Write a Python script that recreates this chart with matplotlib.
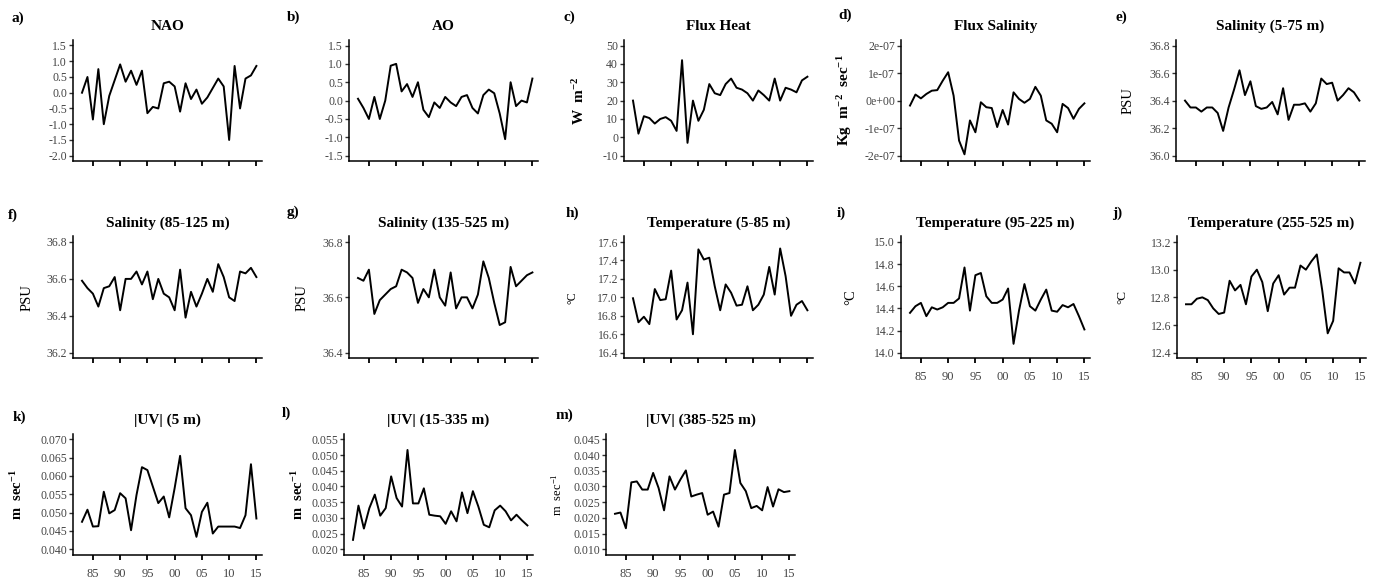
import matplotlib
matplotlib.use('Agg')
import matplotlib.pyplot as plt
import numpy as np

plt.rcParams['font.family'] = ['Liberation Serif', 'DejaVu Serif']
plt.rcParams['mathtext.fontset'] = 'custom'
plt.rcParams['mathtext.rm'] = 'Liberation Serif'
plt.rcParams['mathtext.bf'] = 'Liberation Serif:bold'
plt.rcParams['mathtext.default'] = 'regular'

years = np.arange(1983, 2016)
xticks = [1985, 1990, 1995, 2000, 2005, 2010, 2015]
xticklabels = ['85', '90', '95', '00', '05', '10', '15']

# series, 1983-2015
nao = [0.0, 0.5, -0.85, 0.75, -1.0, -0.1, 0.4, 0.9, 0.35, 0.7, 0.25, 0.7, -0.65,
       -0.45, -0.5, 0.3, 0.35, 0.2, -0.6, 0.3, -0.2, 0.1, -0.35, -0.15, 0.15, 0.45,
       0.2, -1.5, 0.85, -0.5, 0.45, 0.55, 0.85]
ao = [0.05, -0.2, -0.5, 0.1, -0.5, 0.0, 0.95, 1.0, 0.25, 0.45, 0.1, 0.5, -0.25,
      -0.45, -0.05, -0.2, 0.1, -0.05, -0.15, 0.1, 0.15, -0.2, -0.35, 0.15, 0.3,
      0.2, -0.35, -1.05, 0.5, -0.15, 0.0, -0.05, 0.6]
flux_heat = [20, 2, 11.5, 10.5, 7.5, 10, 11, 9, 3.5, 42, -3, 20, 9, 15, 29, 24, 23,
             29, 32, 27, 26, 24, 20, 25.5, 23, 20, 32, 20, 27, 26, 24.5, 31, 33]
flux_sal = [-0.18, 0.22, 0.08, 0.24, 0.36, 0.38, 0.72, 1.03, 0.18, -1.45, -1.95,
            -0.72, -1.15, -0.06, -0.24, -0.27, -0.96, -0.34, -0.87, 0.3, 0.06,
            -0.08, 0.06, 0.5, 0.18, -0.72, -0.84, -1.15, -0.12, -0.27, -0.66,
            -0.3, -0.1]  # x 1e-07
sal_5_75 = [36.40, 36.35, 36.35, 36.32, 36.35, 36.35, 36.31, 36.18, 36.35, 36.48,
            36.62, 36.44, 36.54, 36.36, 36.34, 36.35, 36.39, 36.30, 36.49, 36.26,
            36.37, 36.37, 36.38, 36.32, 36.38, 36.56, 36.52, 36.53, 36.40, 36.44,
            36.49, 36.46, 36.40]
sal_85_125 = [36.59, 36.55, 36.52, 36.45, 36.55, 36.56, 36.61, 36.43, 36.60, 36.60,
              36.64, 36.57, 36.64, 36.49, 36.60, 36.52, 36.50, 36.43, 36.65, 36.39,
              36.53, 36.45, 36.52, 36.60, 36.53, 36.68, 36.61, 36.50, 36.48, 36.64,
              36.63, 36.66, 36.61]
sal_135_525 = [36.67, 36.66, 36.70, 36.54, 36.59, 36.61, 36.63, 36.64, 36.70, 36.69,
               36.67, 36.58, 36.63, 36.60, 36.70, 36.60, 36.57, 36.69, 36.56, 36.60,
               36.60, 36.56, 36.61, 36.73, 36.67, 36.58, 36.50, 36.51, 36.71, 36.64,
               36.66, 36.68, 36.69]
temp_5_85 = [16.99, 16.73, 16.79, 16.71, 17.09, 16.97, 16.98, 17.29, 16.76, 16.86,
             17.16, 16.60, 17.52, 17.41, 17.43, 17.12, 16.86, 17.14, 17.05, 16.91,
             16.92, 17.12, 16.86, 16.92, 17.03, 17.33, 17.03, 17.53, 17.23, 16.80,
             16.92, 16.96, 16.86]
temp_95_225 = [14.36, 14.42, 14.45, 14.33, 14.41, 14.39, 14.41, 14.45, 14.45, 14.49,
               14.77, 14.38, 14.70, 14.72, 14.51, 14.45, 14.45, 14.48, 14.58, 14.08,
               14.38, 14.62, 14.42, 14.38, 14.48, 14.57, 14.38, 14.37, 14.43, 14.41,
               14.44, 14.33, 14.21]
temp_255_525 = [12.75, 12.75, 12.79, 12.80, 12.78, 12.72, 12.68, 12.69, 12.92, 12.85,
                12.89, 12.75, 12.95, 13.00, 12.91, 12.70, 12.90, 12.96, 12.82, 12.87,
                12.87, 13.03, 13.00, 13.06, 13.11, 12.85, 12.54, 12.63, 13.01, 12.98,
                12.98, 12.90, 13.05]
uv_5 = [0.0475, 0.0508, 0.0462, 0.0463, 0.0557, 0.0498, 0.0507, 0.0553, 0.0539,
        0.0452, 0.0548, 0.0624, 0.0616, 0.0571, 0.0526, 0.0544, 0.0487, 0.0567,
        0.0655, 0.0512, 0.0493, 0.0434, 0.0502, 0.0527, 0.0443, 0.0462, 0.0462,
        0.0462, 0.0462, 0.0458, 0.0493, 0.0632, 0.0484]
uv_15_335 = [0.0230, 0.0339, 0.0266, 0.0331, 0.0374, 0.0307, 0.0331, 0.0432, 0.0363,
             0.0336, 0.0516, 0.0346, 0.0346, 0.0394, 0.0310, 0.0307, 0.0305, 0.0281,
             0.0321, 0.0289, 0.0381, 0.0315, 0.0385, 0.0336, 0.0278, 0.0270, 0.0324,
             0.0339, 0.0321, 0.0292, 0.0310, 0.0292, 0.0276]
uv_385_525 = [0.0213, 0.0217, 0.0167, 0.0313, 0.0316, 0.0290, 0.0290, 0.0343, 0.0295,
              0.0224, 0.0332, 0.0290, 0.0322, 0.0351, 0.0268, 0.0274, 0.0279, 0.0210,
              0.0220, 0.0172, 0.0274, 0.0279, 0.0416, 0.0311, 0.0285, 0.0231, 0.0238,
              0.0224, 0.0298, 0.0236, 0.0291, 0.0282, 0.0285]

W, H = 1378, 581
fig = plt.figure(figsize=(W / 100, H / 100), dpi=100)

PX_YR = 5.45
row_top = {1: 45.5, 2: 242.0, 3: 439.3}
row_bot = {1: 155.7, 2: 352.7, 3: 549.3}

# (letter, title, data, yticks, yticklabels, ylabel, ylabel style, x1983 px, row, label px, ylabel x px, show x labels)
panels = [
    ('a)', 'NAO', nao, np.arange(-2.0, 1.51, 0.5), None, None, None, 82, 1, (12, 18), None, False),
    ('b)', 'AO', ao, np.arange(-1.5, 1.51, 0.5), None, None, None, 358, 1, (287, 17), None, False),
    ('c)', 'Flux Heat', flux_heat, np.arange(-10, 51, 10),
     ['-10', '0', '10', '20', '30', '40', '50'], r'W  m$^{\mathbf{-2}}$', ('bold', 11), 633, 1, (563, 17), 579, False),
    ('d)', 'Flux Salinity', [v * 1e-7 for v in flux_sal], np.array([-2e-7, -1e-7, 0, 1e-7, 2e-7]),
     ['-2e-07', '-1e-07', '0e+00', '1e-07', '2e-07'], r'Kg  m$^{\mathbf{-2}}$  sec$^{\mathbf{-1}}$', ('bold', 11), 910, 1, (838, 15), 845, False),
    ('e)', 'Salinity (5-75 m)', sal_5_75, np.arange(36.0, 36.81, 0.2), None, 'PSU', ('normal', 10.5), 1185, 1, (1116, 17), 1128, False),
    ('f)', 'Salinity (85-125 m)', sal_85_125, np.arange(36.2, 36.81, 0.2), None, 'PSU', ('normal', 10.5), 82, 2, (8, 215), 27, False),
    ('g)', 'Salinity (135-525 m)', sal_135_525, np.arange(36.4, 36.81, 0.2), None, 'PSU', ('normal', 10.5), 358, 2, (287, 212), 302, False),
    ('h)', 'Temperature (5-85 m)', temp_5_85, np.arange(16.4, 17.61, 0.2), None, '°C', ('normal', 8.5), 633, 2, (566, 213), 572, False),
    ('i)', 'Temperature (95-225 m)', temp_95_225, np.arange(14.0, 15.01, 0.2), None, '°C', ('normal', 10.5), 910, 2, (837, 213), 851, True),
    ('j)', 'Temperature (255-525 m)', temp_255_525, np.arange(12.4, 13.21, 0.2), None, '°C', ('normal', 9.5), 1186, 2, (1112, 213), 1122, True),
    ('k)', '|UV| (5 m)', uv_5, np.arange(0.040, 0.0701, 0.005), None, r'm  sec$^{\mathbf{-1}}$', ('bold', 10.5), 82, 3, (13, 417), 17, True),
    ('l)', '|UV| (15-335 m)', uv_15_335, np.arange(0.020, 0.0551, 0.005), None, r'm  sec$^{\mathbf{-1}}$', ('bold', 10.5), 353, 3, (282, 413), 298, True),
    ('m)', '|UV| (385-525 m)', uv_385_525, np.arange(0.010, 0.0451, 0.005), None, r'm  sec$^{-1}$', ('normal', 9), 615, 3, (556, 415), 557, True),
]

for (letter, title, data, yt, ytl, ylab, ystyle, x83, row, lab_xy, ylab_x, xlab) in panels:
    t_top, t_bot = row_top[row], row_bot[row]
    span = t_bot - t_top
    top = t_top - 0.05 * span
    bot = t_bot + 0.05 * span
    left = x83 - 1.6 * PX_YR
    width = 34.6 * PX_YR
    ax = fig.add_axes([left / W, 1 - bot / H, width / W, (bot - top) / H])
    ax.plot(years, data, color='black', lw=1.4)
    ax.set_xlim(1981.4, 2016.0)
    lo, hi = yt[0], yt[-1]
    pad = 0.05 * (hi - lo)
    ax.set_ylim(lo - pad, hi + pad)
    ax.set_yticks(yt)
    if ytl is None:
        dec = 3 if hi < 0.1 else 1
        ytl = ['%.*f' % (dec, v) for v in yt]
    ax.set_yticklabels(ytl)
    ax.set_xticks(xticks)
    if xlab:
        ax.set_xticklabels(xticklabels)
    else:
        ax.set_xticklabels([])
    for s in ['top', 'right']:
        ax.spines[s].set_visible(False)
    for s in ['left', 'bottom']:
        ax.spines[s].set_linewidth(1.1)
    ax.tick_params(axis='y', length=3, width=1, labelsize=8.5, pad=1.5, colors='#333333', labelcolor='#444444')
    ax.tick_params(axis='x', length=3.5, width=1.3, labelsize=9, pad=6, labelcolor='#444444')
    ax.set_title(title, fontsize=11, fontweight='bold', pad=7)
    fig.text(lab_xy[0] / W, 1 - lab_xy[1] / H, letter, fontsize=11, fontweight='bold',
             ha='left', va='center')
    if ylab is not None:
        fig.text(ylab_x / W, 1 - (top + bot) / 2 / H, ylab, rotation=90, ha='center',
                 va='center', fontsize=ystyle[1], fontweight=ystyle[0])

fig.savefig('out.png', dpi=100)
